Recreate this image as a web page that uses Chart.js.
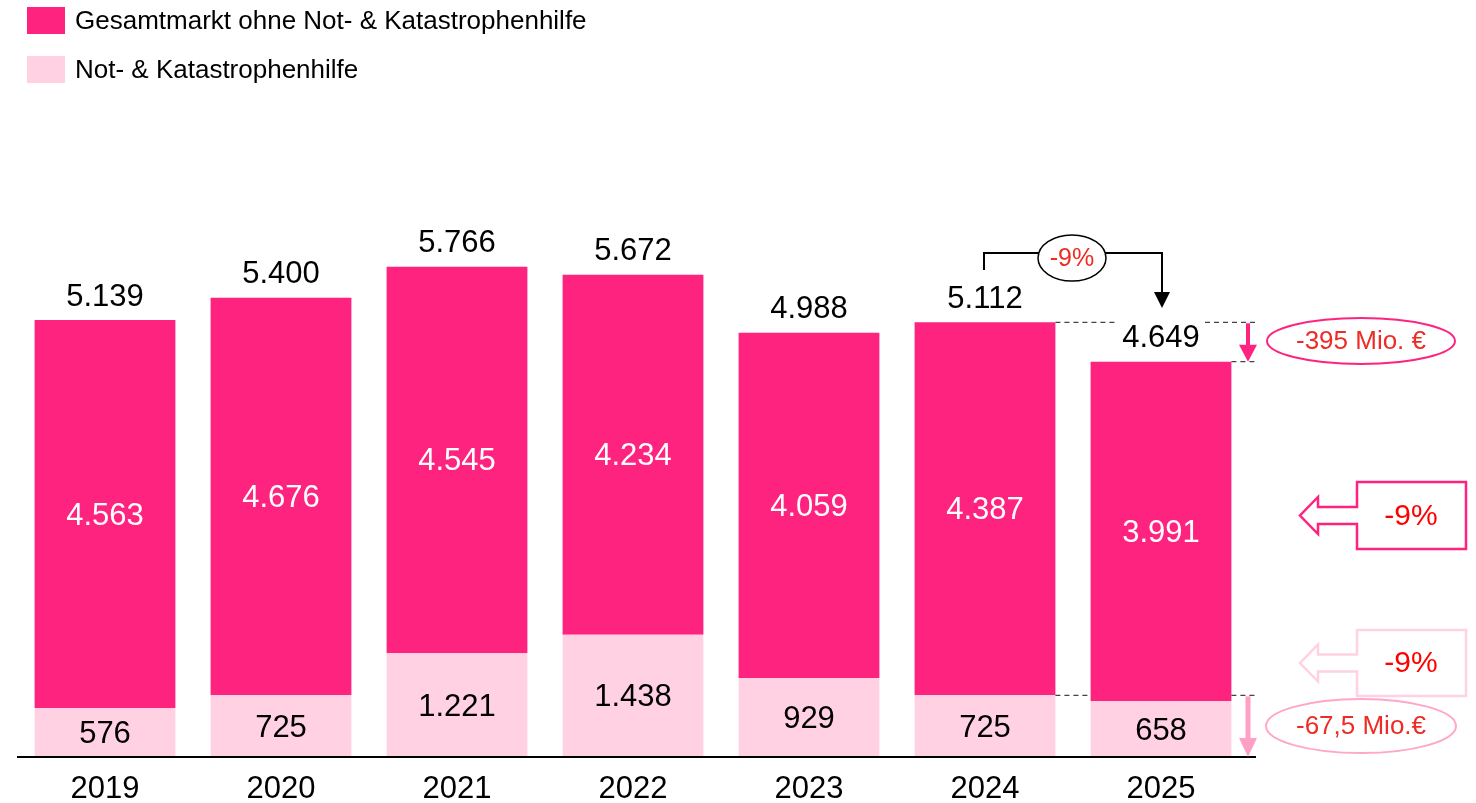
<!DOCTYPE html>
<html>
<head>
<meta charset="utf-8">
<script src="https://cdn.jsdelivr.net/npm/chart.js@4"></script>
<style>
  html, body { margin: 0; padding: 0; background: #fff; }
  canvas { display: block; }
</style>
</head>
<body>
<canvas id="chart" width="1476" height="803"></canvas>
<script>
const years = ['2019', '2020', '2021', '2022', '2023', '2024', '2025'];
const coreValues = [4563, 4676, 4545, 4234, 4059, 4387, 3991];
const emergencyValues = [576, 725, 1221, 1438, 929, 725, 658];
const totalValues = [5139, 5400, 5766, 5672, 4988, 5112, 4649];
const coreLabel = 'Gesamtmarkt ohne Not- & Katastrophenhilfe';
const emergencyLabel = 'Not- & Katastrophenhilfe';

const DARK = '#ff2380';
const LIGHT = '#ffd1e3';
const RED = '#ee2b24';
const FONT = '"Liberation Sans", Arial, sans-serif';

function fmt(v) {
  return String(v).replace(/\B(?=(\d{3})+(?!\d))/g, '.');
}

function ellipse(ctx, cx, cy, rx, ry, stroke, width) {
  ctx.beginPath();
  ctx.ellipse(cx, cy, rx, ry, 0, 0, Math.PI * 2);
  ctx.fillStyle = '#fff';
  ctx.fill();
  ctx.lineWidth = width;
  ctx.strokeStyle = stroke;
  ctx.stroke();
}

function text(ctx, str, x, y, size, color) {
  ctx.font = size + 'px ' + FONT;
  ctx.fillStyle = color;
  ctx.textAlign = 'center';
  ctx.textBaseline = 'middle';
  ctx.fillText(str, x, y);
}

function downArrow(ctx, x, y1, y2, color, shaft, headW, headH) {
  ctx.strokeStyle = color;
  ctx.fillStyle = color;
  ctx.lineWidth = shaft;
  ctx.beginPath();
  ctx.moveTo(x, y1);
  ctx.lineTo(x, y2 - headH + 1);
  ctx.stroke();
  ctx.beginPath();
  ctx.moveTo(x - headW / 2, y2 - headH);
  ctx.lineTo(x + headW / 2, y2 - headH);
  ctx.lineTo(x, y2);
  ctx.closePath();
  ctx.fill();
}

function dashed(ctx, x1, x2, y) {
  ctx.save();
  ctx.strokeStyle = '#444';
  ctx.lineWidth = 1.2;
  ctx.setLineDash([5, 4]);
  ctx.beginPath();
  ctx.moveTo(x1, y);
  ctx.lineTo(x2, y);
  ctx.stroke();
  ctx.restore();
}

function callout(ctx, top, bottom, color) {
  const left = 1357, right = 1466, tip = 1300, neck = 1318;
  const mid = (top + bottom) / 2;
  ctx.beginPath();
  ctx.moveTo(left, top);
  ctx.lineTo(right, top);
  ctx.lineTo(right, bottom);
  ctx.lineTo(left, bottom);
  ctx.lineTo(left, mid + 8.5);
  ctx.lineTo(neck, mid + 8.5);
  ctx.lineTo(neck, mid + 18.5);
  ctx.lineTo(tip, mid);
  ctx.lineTo(neck, mid - 18.5);
  ctx.lineTo(neck, mid - 8.5);
  ctx.lineTo(left, mid - 8.5);
  ctx.closePath();
  ctx.fillStyle = '#fff';
  ctx.fill();
  ctx.lineWidth = 2.5;
  ctx.strokeStyle = color;
  ctx.stroke();
  text(ctx, '-9%', 1411, mid + 1, 30, '#ff0000');
}

const overlay = {
  id: 'overlay',
  afterDraw(chart) {
    const ctx = chart.ctx;
    const y = chart.scales.y;
    const light = chart.getDatasetMeta(0).data;
    const base = y.getPixelForValue(0);
    ctx.save();

    // legend
    ctx.fillStyle = DARK;
    ctx.fillRect(27, 7, 38, 27);
    ctx.fillStyle = LIGHT;
    ctx.fillRect(27, 56, 38, 27);
    ctx.font = '26px ' + FONT;
    ctx.fillStyle = '#000';
    ctx.textAlign = 'left';
    ctx.textBaseline = 'middle';
    ctx.fillText(coreLabel, 75, 22);
    ctx.fillText(emergencyLabel, 75, 71);

    // baseline
    ctx.strokeStyle = '#000';
    ctx.lineWidth = 2;
    ctx.beginPath();
    ctx.moveTo(17, base);
    ctx.lineTo(1256, base);
    ctx.stroke();

    // value labels
    years.forEach((yr, i) => {
      const x = light[i].x;
      const yl = y.getPixelForValue(emergencyValues[i]);
      const yt = y.getPixelForValue(emergencyValues[i] + coreValues[i]);
      text(ctx, fmt(emergencyValues[i]), x, (base + yl) / 2 + 2, 31, '#000');
      text(ctx, fmt(coreValues[i]), x, (yl + yt) / 2 + 2, 31, '#fff');
      text(ctx, fmt(totalValues[i]), x, yt - 23, 31, '#000');
    });

    // year-on-year bracket
    const x24 = light[5].x, x25 = light[6].x;
    ctx.strokeStyle = '#000';
    ctx.lineWidth = 2;
    ctx.beginPath();
    ctx.moveTo(x24 - 1, 270);
    ctx.lineTo(x24 - 1, 253);
    ctx.lineTo(x25 + 1, 253);
    ctx.lineTo(x25 + 1, 294);
    ctx.stroke();
    ctx.fillStyle = '#000';
    ctx.beginPath();
    ctx.moveTo(x25 - 7, 292);
    ctx.lineTo(x25 + 9, 292);
    ctx.lineTo(x25 + 1, 308);
    ctx.closePath();
    ctx.fill();
    ellipse(ctx, 1072, 258, 34, 23, '#000', 1.5);
    text(ctx, '-9%', 1072, 259, 25, RED);

    // core difference
    const half = (light[5].width || 141) / 2;
    const y24 = y.getPixelForValue(emergencyValues[5] + coreValues[5]);
    const y25 = y.getPixelForValue(emergencyValues[6] + coreValues[6]);
    dashed(ctx, x24 + half, 1115, y24);
    dashed(ctx, 1205, 1257, y24);
    dashed(ctx, x25 + half, 1257, y25);
    downArrow(ctx, 1248, y24 + 1, y25, DARK, 4, 18, 17);
    ellipse(ctx, 1361, 341, 94, 23, DARK, 2);
    text(ctx, '-395 Mio. €', 1361, 342, 26, RED);

    // emergency difference
    const e24 = y.getPixelForValue(emergencyValues[5]);
    dashed(ctx, x24 + half, x25 - half, e24);
    dashed(ctx, x25 + half, 1257, e24);
    downArrow(ctx, 1248, e24 + 1, base, '#ff9fc6', 5, 18, 19);
    ellipse(ctx, 1361, 726, 95, 27, '#ffa6ca', 2);
    text(ctx, '-67,5 Mio.€', 1361, 727, 26, RED);

    // percentage callouts
    callout(ctx, 482, 549, DARK);
    callout(ctx, 630, 696, LIGHT);

    ctx.restore();
  }
};

new Chart(document.getElementById('chart'), {
  type: 'bar',
  data: {
    labels: years,
    datasets: [
      {
        label: emergencyLabel,
        data: emergencyValues,
        backgroundColor: LIGHT,
        borderWidth: 0,
        categoryPercentage: 0.8,
        barPercentage: 1
      },
      {
        label: coreLabel,
        data: coreValues,
        backgroundColor: DARK,
        borderWidth: 0,
        categoryPercentage: 0.8,
        barPercentage: 1
      }
    ]
  },
  options: {
    responsive: false,
    animation: false,
    devicePixelRatio: 1,
    layout: {
      padding: { left: 17, right: 227, top: 170, bottom: 0 }
    },
    scales: {
      x: {
        stacked: true,
        grid: { display: false, drawTicks: false },
        border: { display: false },
        ticks: {
          color: '#000',
          padding: 14,
          font: { size: 31, family: FONT }
        },
        afterFit(scale) { scale.height = 46; }
      },
      y: {
        stacked: true,
        display: false,
        min: 0,
        max: 6903
      }
    },
    plugins: {
      legend: { display: false },
      tooltip: { enabled: false }
    }
  },
  plugins: [overlay]
});
</script>
</body>
</html>
